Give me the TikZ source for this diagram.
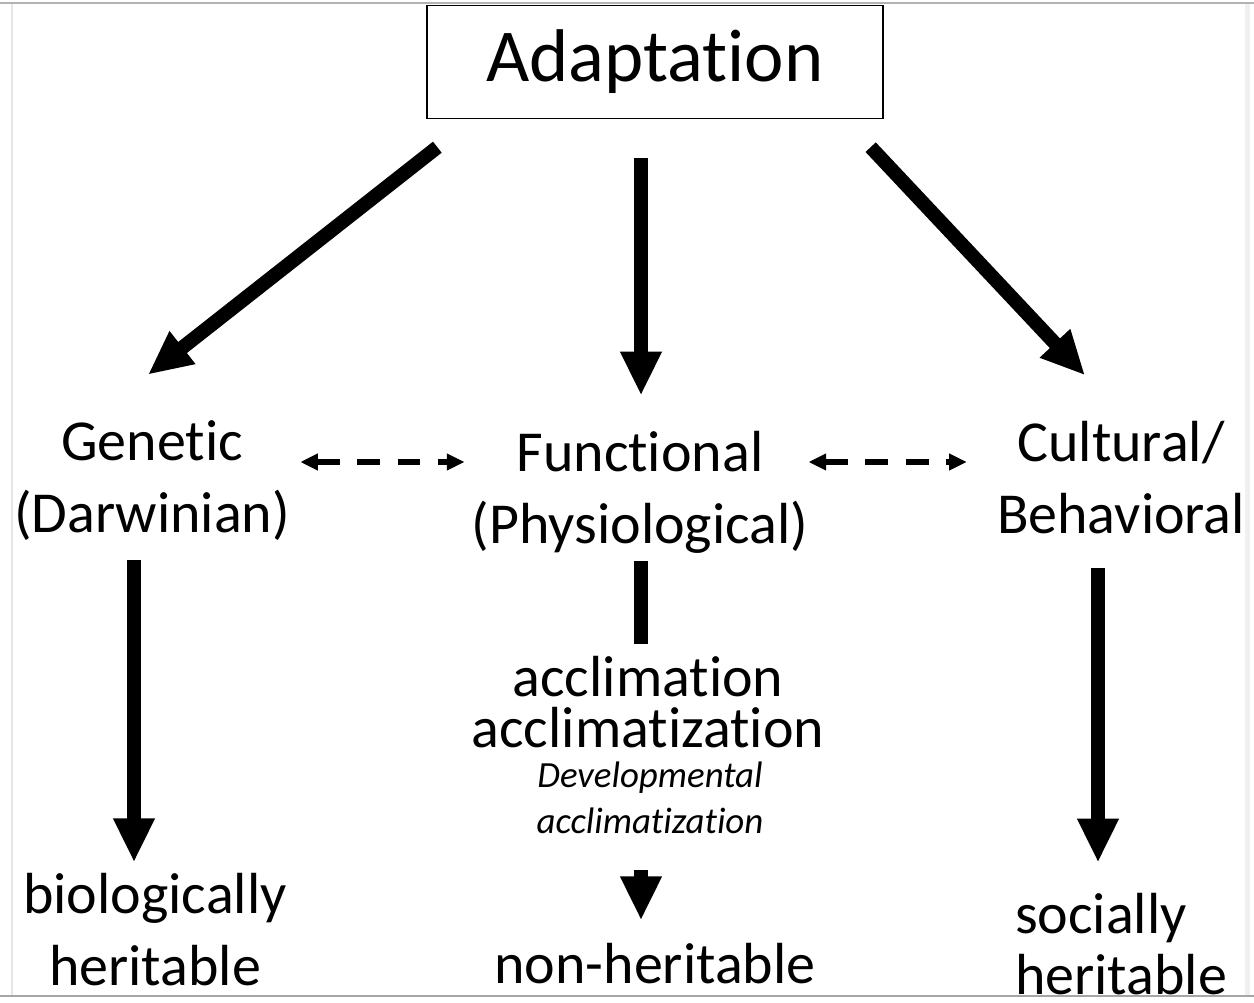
\documentclass[tikz,border=0pt]{standalone}
\usepackage{fontspec}
\setmainfont{Carlito}[Ligatures={NoCommon,NoContextual,NoRare}]
\usetikzlibrary{calc,arrows.meta,positioning}

\begin{document}
\begin{tikzpicture}[x=0.02cm,y=-0.02cm,
  lbl/.style={align=center,inner sep=0pt,font=\fontsize{33}{41}\selectfont},
  bigarrow/.style={-{Triangle[length=25pt,width=22pt]},line width=8pt},
  linkarrow/.style={{Triangle[length=10pt,width=9pt]}-{Triangle[length=10pt,width=9pt]},line width=3pt,dash pattern=on 13pt off 10pt}]
\useasboundingbox (0,0) rectangle (1254,1003);
% screenshot frame
\fill[gray!12] (1245,4) rectangle (1250,995);
\draw[gray!20,line width=1pt] (12,4) -- (12,995);
\draw[gray!60,line width=1.2pt] (0,3) -- (1254,3);
\draw[gray!70,line width=1.2pt] (0,996) -- (1254,996);
% nodes
\node[draw,line width=0.8pt,minimum width=9.12cm,minimum height=2.26cm,inner sep=0pt,font=\fontsize{42.5}{50}\selectfont] (adapt) at (655,62){Adaptation};
\node[lbl] (genetic) at (152,481){Genetic\\(Darwinian)};
\node[lbl] (functional) at (640,492){Functional\\(Physiological)};
\node[lbl] (cultural) at (1121,478){Cultural/\\Behavioral};
\node[lbl,font=\fontsize{33}{29}\selectfont] (acclim) at (648,702){acclimation\\acclimatization};
\node[lbl,font=\itshape\fontsize{21}{26}\selectfont] (develop) at (650,798){Developmental\\acclimatization};
\node[lbl] (biol) at (155,930){biologically\\heritable};
\node[lbl] (nonher) at (655,964){non-heritable};
\node[lbl,align=left,font=\fontsize{33}{35}\selectfont] (social) at (1121,944){socially\\heritable};
% arrows from the box
\draw[bigarrow] ($(adapt.south west)+(11,28)$)--($(genetic.north)+(-4,-46)$);
\draw[bigarrow] ($(adapt.south)+(-14,39)$)--($(functional.north)+(1,-35)$);
\draw[bigarrow] ($(adapt.south east)+(-13,28)$)--($(cultural.north)+(-36,-46)$);
% links between the kinds
\draw[linkarrow] ($(genetic.east)+(10,-19)$)--($(functional.west)+(-7,-30)$);
\draw[linkarrow] ($(functional.east)+(0,-30)$)--($(cultural.west)+(-30,-16)$);
% down to heritability
\draw[bigarrow] ($(genetic.south)+(-18,19)$)--($(biol.north)+(-21,-11)$);
\draw[line width=8pt] ($(functional.south)+(1,8)$)--($(acclim.north)+(-7,-12)$);
\draw[bigarrow] ($(develop.south)+(-9,36)$)--($(nonher.north)+(-14,-23)$);
\draw[bigarrow] ($(cultural.south)+(-23,33)$)--($(social.north)+(-23,-30)$);
\end{tikzpicture}
\end{document}
